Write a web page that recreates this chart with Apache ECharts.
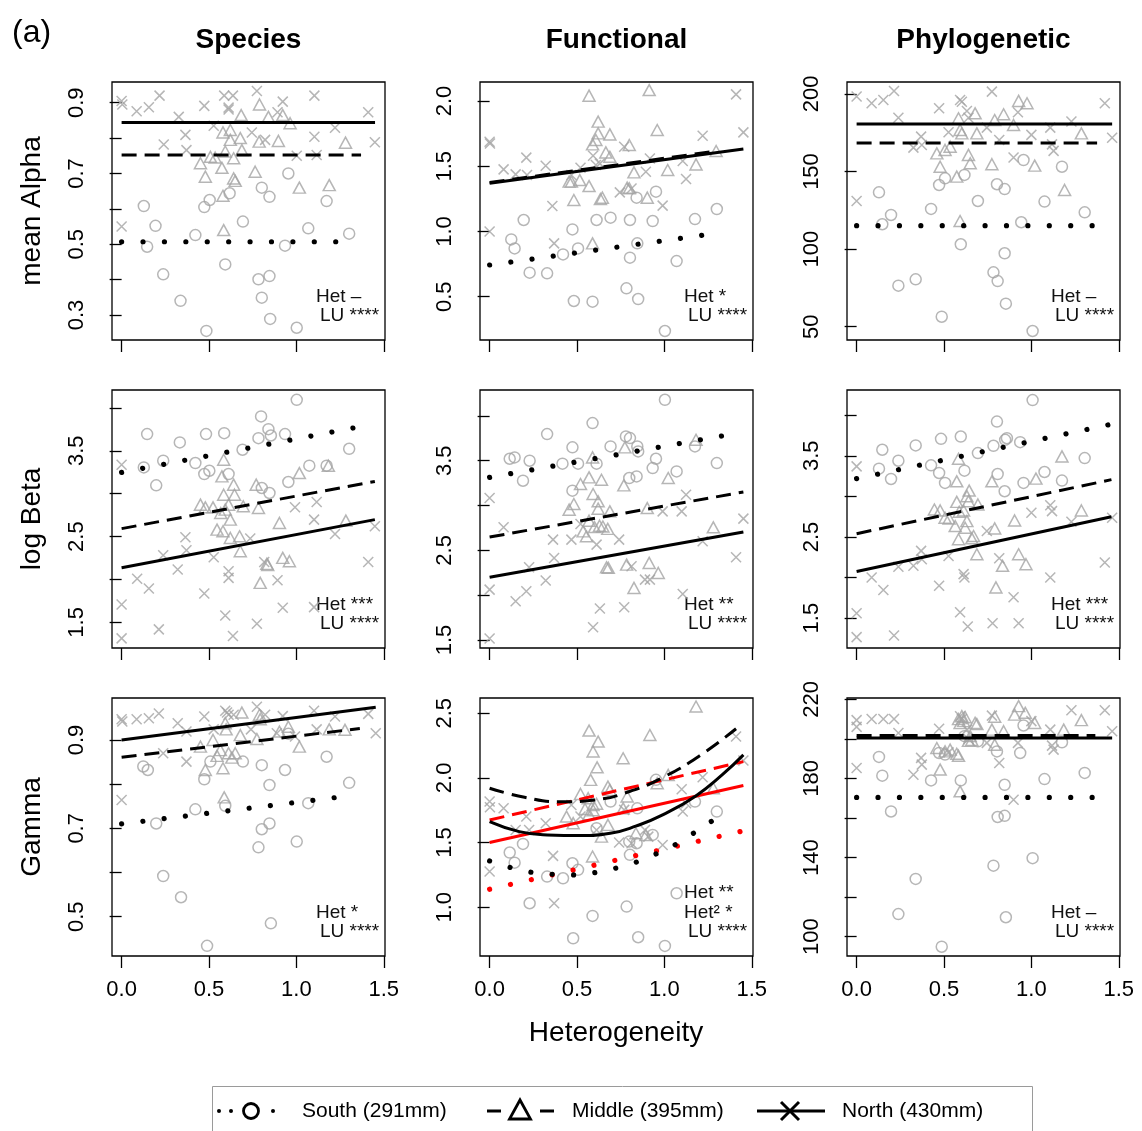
<!DOCTYPE html>
<html><head><meta charset="utf-8">
<script src="https://cdn.jsdelivr.net/npm/echarts@6/dist/echarts.min.js"></script>
<style>html,body{margin:0;padding:0;background:#fff;}#c{width:1142px;height:1131px;}</style>
</head><body><div id="c"></div>
<script>
const FONT = '"Liberation Sans", Arial, Helvetica, sans-serif';
const columnTitles = ['Species', 'Functional', 'Phylogenetic'];
const rowTitles = ['mean Alpha', 'log Beta', 'Gamma'];
const regionNames = ['South (291mm)', 'Middle (395mm)', 'North (430mm)'];
const xTicks = [0, 0.5, 1.0, 1.5];
const xTitle = 'Heterogeneity';

// ---------- y ticks / labels ----------
const speciesAlphaTicks = [0.3, 0.4, 0.5, 0.6, 0.7, 0.8, 0.9];
const speciesAlphaLabels = [0.3, 0.5, 0.7, 0.9];
const functionalAlphaTicks = [0.5, 1.0, 1.5, 2.0];
const phyloAlphaTicks = [50, 100, 150, 200];
const betaTicks = [1.5, 2.0, 2.5, 3.0, 3.5, 4.0];
const betaLabels = [1.5, 2.5, 3.5];
const speciesGammaTicks = [0.5, 0.6, 0.7, 0.8, 0.9];
const speciesGammaLabels = [0.5, 0.7, 0.9];
const functionalGammaTicks = [1.0, 1.5, 2.0, 2.5];
const phyloGammaTicks = [100, 120, 140, 160, 180, 200, 220];
const phyloGammaLabels = [100, 140, 180, 220];

// ---------- Species / mean Alpha ----------
const speciesAlphaSouth = [[0.127,0.608],[0.146,0.493],[0.194,0.552],[0.238,0.415],[0.337,0.34],[0.422,0.526],[0.473,0.605],[0.504,0.625],[0.485,0.255],[0.593,0.443],[0.618,0.644],[0.694,0.564],[0.783,0.401],[0.802,0.66],[0.846,0.41],[0.802,0.349],[0.846,0.634],[0.85,0.289],[0.935,0.496],[0.954,0.7],[1.002,0.264],[1.068,0.545],[1.173,0.622],[1.302,0.53]];
const speciesAlphaMiddle = [[0.451,0.729],[0.479,0.691],[0.508,0.747],[0.535,0.745],[0.574,0.716],[0.58,0.637],[0.584,0.54],[0.593,0.762],[0.58,0.816],[0.622,0.823],[0.622,0.795],[0.641,0.743],[0.641,0.686],[0.65,0.679],[0.679,0.8],[0.684,0.865],[0.688,0.766],[0.764,0.705],[0.789,0.895],[0.787,0.79],[0.84,0.86],[0.897,0.792],[0.922,0.865],[0.964,0.842],[1.017,0.66],[1.188,0.667],[1.281,0.787]];
const speciesAlphaNorth = [[0,0.905],[0.004,0.895],[0,0.55],[0.086,0.876],[0.156,0.887],[0.217,0.92],[0.241,0.782],[0.327,0.86],[0.365,0.809],[0.371,0.766],[0.473,0.891],[0.527,0.835],[0.587,0.92],[0.637,0.92],[0.612,0.886],[0.612,0.881],[0.745,0.816],[0.774,0.933],[0.821,0.795],[0.892,0.873],[0.922,0.903],[1.002,0.75],[1.103,0.92],[1.103,0.804],[1.116,0.752],[1.221,0.829],[1.411,0.873],[1.449,0.788]];
const speciesAlphaFitSouth = [[0,0.507],[1.344,0.507]];
const speciesAlphaFitMiddle = [[0,0.752],[1.37,0.752]];
const speciesAlphaFitNorth = [[0,0.844],[1.45,0.844]];

// ---------- Functional / mean Alpha ----------
const functionalAlphaSouth = [[0.124,0.939],[0.143,0.87],[0.195,1.088],[0.229,0.684],[0.329,0.679],[0.42,0.824],[0.474,1.016],[0.506,0.87],[0.482,0.467],[0.589,0.462],[0.612,1.088],[0.692,1.106],[0.783,0.564],[0.803,1.088],[0.803,0.799],[0.841,1.259],[0.845,0.909],[0.85,0.482],[0.933,1.08],[0.952,1.305],[1.003,0.237],[1.07,0.773],[1.175,1.095],[1.3,1.172]];
const functionalAlphaMiddle = [[0.569,2.041],[0.621,1.842],[0.688,1.744],[0.621,1.752],[0.608,1.701],[0.589,1.668],[0.468,1.382],[0.455,1.382],[0.516,1.394],[0.569,1.348],[0.482,1.241],[0.589,0.909],[0.634,1.249],[0.645,1.259],[0.665,1.606],[0.688,1.573],[0.799,1.663],[0.826,1.453],[0.787,1.336],[0.799,1.331],[0.902,1.259],[0.913,2.084],[0.959,1.778],[1.019,1.471],[1.181,1.514],[1.296,1.617]];
const functionalAlphaNorth = [[0,1.688],[0.002,1.675],[0,1.0],[0.08,1.476],[0.149,1.438],[0.21,1.566],[0.214,1.433],[0.321,1.504],[0.359,1.195],[0.369,0.909],[0.468,1.433],[0.52,1.489],[0.592,1.581],[0.608,1.509],[0.631,1.52],[0.745,1.3],[0.77,1.65],[0.812,1.33],[0.894,1.458],[0.917,1.56],[0.99,1.198],[1.105,1.54],[1.124,1.402],[1.219,1.734],[1.41,2.051],[1.452,1.76]];
const functionalAlphaFitSouth = [[0,0.743],[1.334,0.993]];
const functionalAlphaFitMiddle = [[0,1.376],[1.3,1.617]];
const functionalAlphaFitNorth = [[0,1.369],[1.452,1.632]];

// ---------- Phylogenetic / mean Alpha ----------
const phyloAlphaSouth = [[0.128,136.6],[0.147,116],[0.197,122],[0.239,76.4],[0.338,80.5],[0.426,125.9],[0.472,141.3],[0.506,145.6],[0.487,56.4],[0.596,103.1],[0.617,147.8],[0.694,131],[0.783,85],[0.803,141.8],[0.807,79.4],[0.847,97.3],[0.847,138.7],[0.854,64.8],[0.942,117.3],[0.955,157.4],[1.007,47.2],[1.075,130.6],[1.175,153.1],[1.305,123.7]];
const phyloAlphaMiddle = [[0.459,161.7],[0.478,153.1],[0.506,163.9],[0.535,166],[0.573,146.7],[0.592,118.1],[0.583,184.3],[0.592,176.8],[0.602,174.6],[0.64,160.7],[0.65,155.3],[0.678,187.5],[0.688,174.6],[0.774,154.7],[0.79,183.2],[0.841,186.9],[0.898,180],[0.927,195.5],[0.975,194],[1.019,153.8],[1.19,138.1],[1.286,174.6]];
const phyloAlphaNorth = [[0,198.3],[0,131],[0.086,194],[0.153,196.1],[0.214,201.9],[0.239,184.7],[0.325,165.4],[0.369,172.5],[0.373,167.1],[0.472,190.8],[0.526,175.3],[0.592,196.1],[0.602,195],[0.631,189],[0.64,184.7],[0.745,178.3],[0.774,201.5],[0.816,170.3],[0.898,159],[0.923,188.2],[1.0,173.6],[1.108,178.3],[1.118,167.5],[1.127,163.3],[1.229,182.2],[1.42,194],[1.462,171.8]];
const phyloAlphaFitSouth = [[0,115.1],[1.357,115.1]];
const phyloAlphaFitMiddle = [[0,168.4],[1.376,168.4]];
const phyloAlphaFitNorth = [[0,180.7],[1.462,180.7]];

// ---------- Species / log Beta ----------
const speciesBetaSouth = [[0.127,3.306],[0.146,3.694],[0.198,3.097],[0.238,3.384],[0.333,3.597],[0.422,3.357],[0.473,3.229],[0.502,3.267],[0.483,3.694],[0.587,3.705],[0.612,3.229],[0.692,3.512],[0.783,3.647],[0.798,3.9],[0.802,3.066],[0.84,3.752],[0.854,3.678],[0.846,3.008],[0.935,3.694],[0.954,3.136],[1.002,4.093],[1.074,3.326],[1.173,3.326],[1.302,3.523]];
const speciesBetaMiddle = [[0.451,2.872],[0.479,2.841],[0.523,2.841],[0.584,3.395],[0.574,3.202],[0.584,2.988],[0.546,2.581],[0.58,2.562],[0.567,2.775],[0.593,2.814],[0.612,2.872],[0.622,2.698],[0.641,3.105],[0.646,2.988],[0.622,2.484],[0.675,2.504],[0.679,2.329],[0.696,2.853],[0.77,3.105],[0.783,2.833],[0.793,1.961],[0.831,2.182],[0.836,2.17],[0.903,2.659],[0.922,2.252],[0.96,2.213],[1.017,3.24],[1.183,3.326],[1.283,2.686]];
const speciesBetaNorth = [[0,3.337],[0,1.709],[0,1.314],[0.089,2.008],[0.156,1.895],[0.213,1.419],[0.238,2.283],[0.321,2.116],[0.365,2.492],[0.371,2.341],[0.473,1.837],[0.527,2.26],[0.593,1.581],[0.612,2.097],[0.612,2.019],[0.637,1.341],[0.736,2.477],[0.774,1.484],[0.816,2.205],[0.892,1.992],[0.922,1.671],[0.992,2.841],[1.101,2.698],[1.116,2.903],[1.101,1.678],[1.221,2.531],[1.411,2.205],[1.449,2.62]];
const speciesBetaFitSouth = [[0,3.248],[1.439,3.81]];
const speciesBetaFitMiddle = [[0,2.593],[1.449,3.143]];
const speciesBetaFitNorth = [[0,2.136],[1.449,2.698]];

// ---------- Functional / log Beta ----------
const functionalBetaSouth = [[0.115,3.522],[0.143,3.537],[0.191,3.277],[0.229,3.5],[0.329,3.797],[0.417,3.467],[0.474,3.649],[0.474,3.166],[0.506,3.467],[0.589,3.92],[0.612,3.467],[0.692,3.66],[0.78,3.771],[0.803,3.753],[0.799,3.307],[0.841,3.325],[0.845,3.66],[0.85,3.604],[0.933,3.418],[0.952,3.522],[1.003,4.18],[1.07,3.381],[1.175,3.66],[1.3,3.474]];
const functionalBetaMiddle = [[0.589,3.537],[0.774,3.649],[0.52,3.24],[0.569,3.314],[0.64,3.288],[0.768,3.225],[1.022,3.307],[0.482,3.017],[0.455,2.954],[0.592,3.129],[0.621,3.047],[0.621,2.965],[0.688,2.935],[0.902,2.972],[0.569,2.831],[0.535,2.712],[0.554,2.657],[0.6,2.76],[0.629,2.775],[0.648,2.766],[0.676,2.74],[0.669,2.311],[0.679,2.305],[0.784,2.341],[0.826,2.081],[0.913,2.36],[0.965,2.248],[1.181,3.734],[1.28,2.757]];
const functionalBetaNorth = [[0,3.084],[0,2.062],[0,1.516],[0.08,2.757],[0.149,1.932],[0.21,2.044],[0.226,2.311],[0.321,2.163],[0.363,2.62],[0.369,2.415],[0.468,2.62],[0.52,2.794],[0.612,2.564],[0.592,1.643],[0.631,1.851],[0.741,2.62],[0.77,1.866],[0.812,2.322],[0.889,2.174],[0.917,2.174],[0.99,2.935],[1.099,2.935],[1.105,2.014],[1.124,3.121],[1.219,2.601],[1.41,2.423],[1.452,2.854]];
const functionalBetaFitSouth = [[0,3.314],[1.443,3.816]];
const functionalBetaFitMiddle = [[0,2.649],[1.452,3.151]];
const functionalBetaFitNorth = [[0,2.2],[1.452,2.705]];

// ---------- Phylogenetic / log Beta ----------
const phyloBetaSouth = [[0.128,3.341],[0.147,3.574],[0.197,3.214],[0.239,3.439],[0.338,3.627],[0.426,3.382],[0.472,3.288],[0.483,3.708],[0.506,3.165],[0.596,3.737],[0.617,3.316],[0.694,3.533],[0.783,3.623],[0.803,3.921],[0.807,3.275],[0.847,3.063],[0.85,3.696],[0.86,3.716],[0.936,3.667],[0.955,3.165],[1.007,4.186],[1.075,3.3],[1.175,3.194],[1.305,3.471]];
const phyloBetaMiddle = [[0.583,3.463],[0.573,3.185],[0.445,2.838],[0.478,2.826],[0.506,2.736],[0.529,2.728],[0.573,2.932],[0.587,2.81],[0.612,2.826],[0.631,3.002],[0.644,3.071],[0.64,2.94],[0.694,2.9],[0.564,2.634],[0.583,2.471],[0.631,2.695],[0.621,2.613],[0.669,2.511],[0.659,2.483],[0.688,2.287],[0.774,3.185],[0.79,2.605],[0.797,1.878],[0.835,2.144],[0.904,2.703],[0.927,2.287],[0.969,2.164],[1.026,3.218],[1.175,3.492],[1.286,2.826]];
const phyloBetaNorth = [[0,3.369],[0,1.56],[0,1.266],[0.086,2.0],[0.153,1.846],[0.214,1.286],[0.239,2.132],[0.325,2.144],[0.369,2.328],[0.373,2.225],[0.472,1.899],[0.526,2.266],[0.592,1.572],[0.612,2.042],[0.617,2.0],[0.636,1.396],[0.745,2.573],[0.778,1.437],[0.816,2.238],[0.898,1.756],[0.927,1.437],[1.0,2.797],[1.108,2.891],[1.118,2.818],[1.108,2.0],[1.229,2.687],[1.42,2.185],[1.462,2.736]];
const phyloBetaFitSouth = [[0,3.218],[1.439,3.88]];
const phyloBetaFitMiddle = [[0,2.54],[1.458,3.206]];
const phyloBetaFitNorth = [[0,2.074],[1.458,2.748]];

// ---------- Species / Gamma ----------
const speciesGammaSouth = [[0.124,0.84],[0.15,0.832],[0.198,0.711],[0.238,0.592],[0.34,0.544],[0.422,0.743],[0.473,0.811],[0.508,0.851],[0.489,0.434],[0.593,0.751],[0.694,0.851],[0.783,0.657],[0.802,0.843],[0.802,0.698],[0.846,0.711],[0.846,0.798],[0.854,0.485],[0.935,0.832],[0.954,0.914],[1.002,0.67],[1.068,0.757],[1.173,0.862],[1.302,0.803]];
const speciesGammaMiddle = [[0.451,0.885],[0.479,0.832],[0.523,0.9],[0.546,0.864],[0.565,0.877],[0.58,0.836],[0.587,0.77],[0.593,0.938],[0.598,0.924],[0.612,0.87],[0.631,0.86],[0.65,0.87],[0.679,0.911],[0.688,0.962],[0.774,0.902],[0.789,0.957],[0.793,0.947],[0.903,0.919],[0.954,0.93],[1.017,0.885],[1.188,0.924],[1.278,0.923]];
const speciesGammaNorth = [[0,0.947],[0.004,0.942],[0,0.764],[0.086,0.947],[0.156,0.949],[0.213,0.96],[0.238,0.87],[0.321,0.938],[0.371,0.851],[0.371,0.919],[0.473,0.953],[0.527,0.924],[0.593,0.966],[0.612,0.957],[0.603,0.962],[0.641,0.957],[0.74,0.924],[0.774,0.975],[0.821,0.957],[0.888,0.915],[0.922,0.954],[0.992,0.908],[1.101,0.966],[1.116,0.924],[1.221,0.953],[1.411,0.959],[1.454,0.915]];
const speciesGammaFitSouth = [[0,0.71],[1.335,0.775]];
const speciesGammaFitMiddle = [[0,0.861],[1.363,0.926]];
const speciesGammaFitNorth = [[0,0.9],[1.454,0.974]];

// ---------- Functional / Gamma ----------
const functionalGammaSouth = [[0.115,1.423],[0.143,1.345],[0.191,1.49],[0.229,1.031],[0.329,1.237],[0.42,1.224],[0.474,1.34],[0.506,1.289],[0.478,0.76],[0.589,0.933],[0.612,1.611],[0.692,1.817],[0.784,1.005],[0.803,1.405],[0.799,1.508],[0.841,1.495],[0.845,1.765],[0.85,0.768],[0.933,1.559],[0.952,1.985],[1.003,0.701],[1.07,1.108],[1.175,1.817],[1.3,1.74]];
const functionalGammaMiddle = [[0.569,2.366],[0.621,2.281],[0.592,2.204],[0.615,2.082],[0.578,1.985],[0.52,1.876],[0.564,1.843],[0.44,1.701],[0.478,1.65],[0.546,1.76],[0.569,1.72],[0.592,1.75],[0.592,1.791],[0.612,1.8],[0.64,1.546],[0.677,1.933],[0.688,1.907],[0.677,1.637],[0.589,1.392],[0.764,2.152],[0.787,1.856],[0.764,1.765],[0.837,1.572],[0.894,1.559],[0.917,2.332],[0.959,1.959],[1.022,2.023],[1.181,2.552],[1.28,1.92]];
const functionalGammaNorth = [[0,1.817],[0.002,1.773],[0,1.276],[0.08,1.765],[0.149,1.598],[0.21,1.701],[0.226,1.598],[0.321,1.65],[0.363,1.397],[0.369,1.031],[0.468,1.791],[0.52,1.701],[0.612,1.598],[0.741,1.5],[0.77,1.753],[0.812,1.495],[0.889,1.598],[0.908,1.546],[0.99,1.482],[1.099,1.912],[1.105,1.74],[1.124,1.804],[1.219,2.005],[1.41,2.32],[1.452,2.134]];
// quadratic fits (black)
const functionalGammaQuadSouth = [[0,1.358],[0.115,1.309],[0.235,1.271],[0.357,1.255],[0.478,1.25],[0.602,1.268],[0.722,1.302],[0.837,1.348],[0.952,1.412],[1.066,1.487],[1.166,1.572],[1.267,1.662],[1.357,1.765]];
const functionalGammaQuadMiddle = [[0,1.92],[0.2,1.85],[0.4,1.815],[0.6,1.83],[0.8,1.895],[1.0,2.01],[1.2,2.17],[1.41,2.38]];
const functionalGammaQuadNorth = [[0,1.662],[0.17,1.585],[0.33,1.559],[0.52,1.554],[0.69,1.572],[0.84,1.629],[0.99,1.714],[1.18,1.861],[1.33,2.023],[1.452,2.178]];
// linear fits (red)
const functionalGammaLinSouth = [[0,1.139],[1.433,1.585]];
const functionalGammaLinMiddle = [[0,1.675],[1.452,2.126]];
const functionalGammaLinNorth = [[0,1.5],[1.452,1.941]];

// ---------- Phylogenetic / Gamma ----------
const phyloGammaSouth = [[0.128,190.9],[0.147,181.4],[0.197,163.3],[0.239,111.4],[0.338,129.2],[0.426,179],[0.472,192.9],[0.506,192.1],[0.487,94.9],[0.596,179],[0.617,201.4],[0.694,198.8],[0.783,135.9],[0.803,193.7],[0.807,160.5],[0.847,161.1],[0.847,176.8],[0.854,109.8],[0.936,192.9],[0.955,206.8],[1.007,139.7],[1.075,179.7],[1.175,198.3],[1.305,182.8]];
const phyloGammaMiddle = [[0.459,195.4],[0.478,184.5],[0.506,193.7],[0.535,194.6],[0.573,192.5],[0.583,191.5],[0.592,173.5],[0.583,210],[0.602,211.5],[0.612,209],[0.621,211],[0.592,208],[0.64,199],[0.65,201.5],[0.659,199.5],[0.678,208.1],[0.688,207.5],[0.774,204.7],[0.79,211.2],[0.79,197.1],[0.841,203.9],[0.904,212.3],[0.927,216.6],[0.965,213.2],[1.019,208.1],[1.185,204.7],[1.286,209.5]];
const phyloGammaNorth = [[0,209.5],[0,206.1],[0,185.3],[0.086,210.1],[0.153,210.1],[0.214,210.1],[0.239,203],[0.325,181.9],[0.369,190.4],[0.373,187],[0.472,205.1],[0.526,193.2],[0.592,211.5],[0.602,210.1],[0.631,204.7],[0.64,200],[0.745,198],[0.774,211.8],[0.816,187.8],[0.898,169.2],[0.923,198],[1.0,209],[1.108,204.7],[1.118,196.6],[1.127,194.6],[1.229,214.5],[1.42,214.5],[1.462,203.9]];
const phyloGammaFitSouth = [[0,170.4],[1.357,170.4]];
const phyloGammaFitMiddle = [[0,201.7],[1.366,201.7]];
const phyloGammaFitNorth = [[0,200.5],[1.462,200.5]];

// ---------- significance notes ----------
const notesSpeciesAlpha = ['Het \u2013', 'LU ****'];
const notesFunctionalAlpha = ['Het *', 'LU ****'];
const notesPhyloAlpha = ['Het \u2013', 'LU ****'];
const notesSpeciesBeta = ['Het ***', 'LU ****'];
const notesFunctionalBeta = ['Het **', 'LU ****'];
const notesPhyloBeta = ['Het ***', 'LU ****'];
const notesSpeciesGamma = ['Het *', 'LU ****'];
const notesFunctionalGamma = ['Het **', 'Het\u00b2 *', 'LU ****'];
const notesPhyloGamma = ['Het \u2013', 'LU ****'];

// ---------- layout & styles ----------
const GRAY = '#a4a4a4';
const colLeft = [112, 480, 847];
const rowTop = [82, 390, 698];
const W = 273, H = 258;
const XMIN = -0.055, XMAX = 1.507;

const DOT = {type: [0.01, 21.4], width: 5.2, cap: 'round'};
const DASH = {type: [15, 8], width: 3};
const SOLID = {type: 'solid', width: 3};

function fits(s, m, n, color) {
  return [
    {data: s, style: DOT, color},
    {data: m, style: DASH, color},
    {data: n, style: SOLID, color}
  ];
}

const panels = [
  {row:0,col:0,S:speciesAlphaSouth,M:speciesAlphaMiddle,N:speciesAlphaNorth,fits:fits(speciesAlphaFitSouth,speciesAlphaFitMiddle,speciesAlphaFitNorth,'#000'),ymin:0.2294,ymax:0.9585,ticks:speciesAlphaTicks,labels:speciesAlphaLabels,dec:1,notes:notesSpeciesAlpha},
  {row:0,col:1,S:functionalAlphaSouth,M:functionalAlphaMiddle,N:functionalAlphaNorth,fits:fits(functionalAlphaFitSouth,functionalAlphaFitMiddle,functionalAlphaFitNorth,'#000'),ymin:0.168,ymax:2.146,ticks:functionalAlphaTicks,labels:functionalAlphaTicks,dec:1,notes:notesFunctionalAlpha},
  {row:0,col:2,S:phyloAlphaSouth,M:phyloAlphaMiddle,N:phyloAlphaNorth,fits:fits(phyloAlphaFitSouth,phyloAlphaFitMiddle,phyloAlphaFitNorth,'#000'),ymin:41.4,ymax:207.7,ticks:phyloAlphaTicks,labels:phyloAlphaTicks,dec:0,notes:notesPhyloAlpha},
  {row:1,col:0,S:speciesBetaSouth,M:speciesBetaMiddle,N:speciesBetaNorth,fits:fits(speciesBetaFitSouth,speciesBetaFitMiddle,speciesBetaFitNorth,'#000'),ymin:1.202,ymax:4.208,ticks:betaTicks,labels:betaLabels,dec:1,notes:notesSpeciesBeta},
  {row:1,col:1,S:functionalBetaSouth,M:functionalBetaMiddle,N:functionalBetaNorth,fits:fits(functionalBetaFitSouth,functionalBetaFitMiddle,functionalBetaFitNorth,'#000'),ymin:1.411,ymax:4.289,ticks:betaTicks,labels:betaLabels,dec:1,notes:notesFunctionalBeta},
  {row:1,col:2,S:phyloBetaSouth,M:phyloBetaMiddle,N:phyloBetaNorth,fits:fits(phyloBetaFitSouth,phyloBetaFitMiddle,phyloBetaFitNorth,'#000'),ymin:1.132,ymax:4.31,ticks:betaTicks,labels:betaLabels,dec:1,notes:notesPhyloBeta},
  {row:2,col:0,S:speciesGammaSouth,M:speciesGammaMiddle,N:speciesGammaNorth,fits:fits(speciesGammaFitSouth,speciesGammaFitMiddle,speciesGammaFitNorth,'#000'),ymin:0.411,ymax:0.995,ticks:speciesGammaTicks,labels:speciesGammaLabels,dec:1,notes:notesSpeciesGamma},
  {row:2,col:1,S:functionalGammaSouth,M:functionalGammaMiddle,N:functionalGammaNorth,fits:fits(functionalGammaLinSouth,functionalGammaLinMiddle,functionalGammaLinNorth,'#ff0000').concat(fits(functionalGammaQuadSouth,functionalGammaQuadMiddle,functionalGammaQuadNorth,'#000').map(f=>Object.assign(f,{smooth:true}))),ymin:0.623,ymax:2.618,ticks:functionalGammaTicks,labels:functionalGammaTicks,dec:1,notes:notesFunctionalGamma},
  {row:2,col:2,S:phyloGammaSouth,M:phyloGammaMiddle,N:phyloGammaNorth,fits:fits(phyloGammaFitSouth,phyloGammaFitMiddle,phyloGammaFitNorth,'#000'),ymin:90.2,ymax:220.7,ticks:phyloGammaTicks,labels:phyloGammaLabels,dec:0,notes:notesPhyloGamma}
];

const grid = [], xAxis = [], yAxis = [], series = [], graphic = [];
const pointStyle = {color: 'rgba(0,0,0,0)', borderColor: GRAY, borderWidth: 1.5};
const CROSS = 'path://M0,0L10,10M10,0L0,10';

panels.forEach((p, i) => {
  const left = colLeft[p.col], top = rowTop[p.row];
  grid.push({left, top, width: W, height: H, show: true, borderColor: '#000', borderWidth: 1.3, backgroundColor: 'rgba(0,0,0,0)'});
  xAxis.push({
    type: 'value', gridIndex: i, min: XMIN, max: XMAX,
    axisLine: {show: false}, splitLine: {show: false},
    axisTick: {show: true, length: 12, customValues: xTicks, lineStyle: {color: '#000', width: 1.3}},
    axisLabel: {show: p.row === 2, customValues: xTicks, formatter: v => Number(v).toFixed(1), fontSize: 22, fontFamily: FONT, color: '#000', margin: 23}
  });
  yAxis.push({
    type: 'value', gridIndex: i, min: p.ymin, max: p.ymax,
    axisLine: {show: false}, splitLine: {show: false},
    axisTick: {show: true, length: 12, customValues: p.ticks, lineStyle: {color: '#000', width: 1.3}},
    axisLabel: {show: true, customValues: p.labels, rotate: 90, formatter: v => Number(v).toFixed(p.dec), fontSize: 22, fontFamily: FONT, color: '#000', margin: 24}
  });
  const base = {xAxisIndex: i, yAxisIndex: i, silent: true, animation: false};
  series.push(Object.assign({type: 'scatter', name: regionNames[0], data: p.S, symbol: 'circle', symbolSize: 11, itemStyle: pointStyle, z: 2}, base));
  series.push(Object.assign({type: 'scatter', name: regionNames[1], data: p.M, symbol: 'triangle', symbolSize: [12, 11], itemStyle: pointStyle, z: 2}, base));
  series.push(Object.assign({type: 'scatter', name: regionNames[2], data: p.N, symbol: CROSS, symbolSize: 10, itemStyle: pointStyle, z: 2}, base));
  p.fits.forEach(f => {
    series.push(Object.assign({
      type: 'line', data: f.data, symbol: 'none', showSymbol: false, smooth: f.smooth ? 0.5 : false,
      lineStyle: Object.assign({color: f.color}, f.style), z: 3
    }, base));
  });
  const n = p.notes.length;
  p.notes.forEach((t, k) => {
    const isLU = t.indexOf('LU') === 0;
    graphic.push({type: 'text', x: left + W - (isLU ? 65 : 69), y: top + H - 24 - (n - 1 - k) * 19.5,
      style: {text: t, fontSize: 19, fontFamily: FONT, fill: '#111', textAlign: 'left', textVerticalAlign: 'middle', align: 'left', verticalAlign: 'middle'}});
  });
});

// titles
graphic.push({type: 'text', x: 12, y: 33, style: {text: '(a)', fontSize: 32, fontFamily: FONT, fill: '#000', textAlign: 'left', textVerticalAlign: 'middle', align: 'left', verticalAlign: 'middle'}});
columnTitles.forEach((t, c) => graphic.push({type: 'text', x: colLeft[c] + W / 2, y: 40,
  style: {text: t, fontSize: 28, fontWeight: 'bold', fontFamily: FONT, fill: '#000', textAlign: 'center', textVerticalAlign: 'middle', align: 'center', verticalAlign: 'middle'}}));
rowTitles.forEach((t, r) => graphic.push({type: 'text', x: 32, y: rowTop[r] + H / 2, rotation: Math.PI / 2,
  style: {text: t, fontSize: 28, fontFamily: FONT, fill: '#000', textAlign: 'center', textVerticalAlign: 'middle', align: 'center', verticalAlign: 'middle'}}));
graphic.push({type: 'text', x: 616, y: 1033, style: {text: xTitle, fontSize: 28, fontFamily: FONT, fill: '#000', textAlign: 'center', textVerticalAlign: 'middle', align: 'center', verticalAlign: 'middle'}});

// legend
const LY = 1111;
graphic.push({type: 'rect', shape: {x: 212.5, y: 1086.5, width: 820, height: 70}, style: {fill: 'none', stroke: '#9a9a9a', lineWidth: 1}});
[219, 231, 273].forEach(x => graphic.push({type: 'circle', shape: {cx: x, cy: LY, r: 2}, style: {fill: '#000'}}));
graphic.push({type: 'circle', shape: {cx: 251, cy: LY, r: 7.5}, style: {fill: 'none', stroke: '#000', lineWidth: 2.8}});
graphic.push({type: 'line', shape: {x1: 487, y1: LY, x2: 501, y2: LY}, style: {stroke: '#000', lineWidth: 3}});
graphic.push({type: 'line', shape: {x1: 540, y1: LY, x2: 554, y2: LY}, style: {stroke: '#000', lineWidth: 3}});
graphic.push({type: 'polygon', shape: {points: [[520, 1100], [509.5, 1119], [530.5, 1119]]}, style: {fill: 'none', stroke: '#000', lineWidth: 2.8}});
graphic.push({type: 'line', shape: {x1: 757, y1: LY, x2: 825, y2: LY}, style: {stroke: '#000', lineWidth: 3}});
graphic.push({type: 'polyline', shape: {points: [[781, 1102], [799, 1120]]}, style: {stroke: '#000', lineWidth: 3}});
graphic.push({type: 'polyline', shape: {points: [[799, 1102], [781, 1120]]}, style: {stroke: '#000', lineWidth: 3}});
[[302, regionNames[0]], [572, regionNames[1]], [842, regionNames[2]]].forEach(([x, t]) =>
  graphic.push({type: 'text', x, y: LY, style: {text: t, fontSize: 21, fontFamily: FONT, fill: '#000', textAlign: 'left', textVerticalAlign: 'middle', align: 'left', verticalAlign: 'middle'}}));

const chart = echarts.init(document.getElementById('c'), null, {renderer: 'canvas', width: 1142, height: 1131});
chart.setOption({backgroundColor: '#fff', animation: false, grid, xAxis, yAxis, series, graphic});
</script>
</body></html>
